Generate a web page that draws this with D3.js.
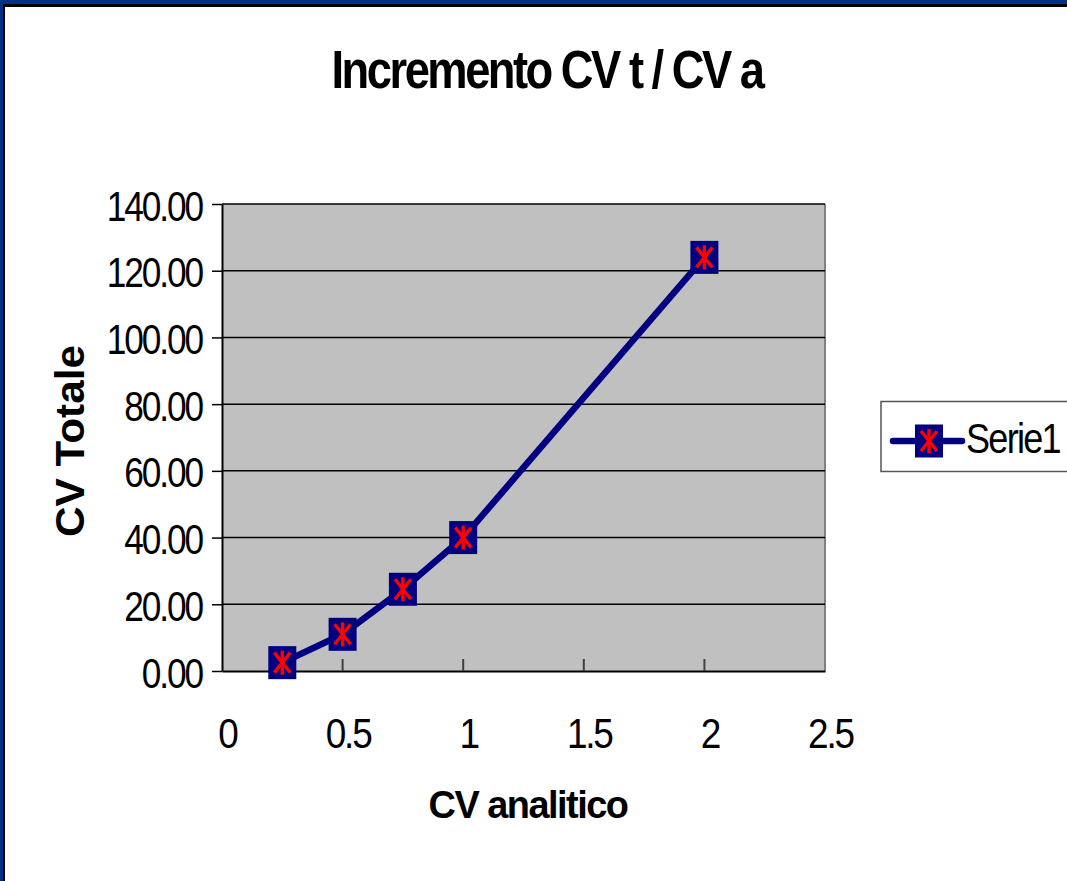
<!DOCTYPE html>
<html><head><meta charset="utf-8">
<script src="https://cdn.jsdelivr.net/npm/d3@7"></script>
<style>html,body{margin:0;padding:0;background:#fff;overflow:hidden}</style>
</head><body>
<svg id="c" width="1067" height="881"></svg>
<script>
const cvAnalitico = [0.25, 0.5, 0.75, 1, 2];
const cvTotale = [2.5, 11.0, 24.5, 40.0, 124.0];
const xTicks = [0, 0.5, 1, 1.5, 2, 2.5];
const yTicks = [0, 20, 40, 60, 80, 100, 120, 140];
const seriesName = "Serie1";
const titleText = "Incremento CV t / CV a";
const xTitle = "CV analitico";
const yTitle = "CV Totale";

const svg = d3.select("#c");
const FONT = "Liberation Sans, Arial, sans-serif";
const navy = "#000080";

svg.append("rect").attr("x",0).attr("y",0).attr("width",1067).attr("height",881).attr("fill","#fff");
// frame
svg.append("rect").attr("x",0).attr("y",0).attr("width",1067).attr("height",4).attr("fill","#062F88");
svg.append("rect").attr("x",0).attr("y",4).attr("width",1067).attr("height",3).attr("fill","#000");
svg.append("rect").attr("x",0).attr("y",0).attr("width",3).attr("height",881).attr("fill","#062F88");
svg.append("rect").attr("x",3).attr("y",4).attr("width",2).attr("height",877).attr("fill","#000");

const x = d3.scaleLinear().domain([0, 2.5]).range([222, 825]);
const y = d3.scaleLinear().domain([0, 140]).range([671, 204]);

function squeeze(t, tx, ty, factor, rot){
  t.attr("x",0).attr("y",0)
   .attr("transform",`translate(${tx},${ty})${rot?` rotate(${rot})`:""} scale(${factor},1)`);
}

// plot area
svg.append("rect").attr("x",x(0)).attr("y",y(140)).attr("width",x(2.5)-x(0)).attr("height",y(0)-y(140)).attr("fill","#C0C0C0");
svg.append("line").attr("x1",x(2.5)).attr("x2",x(2.5)).attr("y1",y(140)).attr("y2",y(0)).attr("stroke","#808080").attr("stroke-width",2);

// gridlines
svg.append("g").selectAll("line").data(yTicks.filter(d=>d>0)).join("line")
  .attr("x1",x(0)).attr("x2",x(2.5)).attr("y1",d=>y(d)).attr("y2",d=>y(d))
  .attr("stroke","#000").attr("stroke-width",1.5);

// y axis
const yAxis = d3.axisLeft(y).tickValues(yTicks).tickSize(10).tickSizeOuter(0).tickFormat(d3.format(".2f"));
const ya = svg.append("g").attr("transform",`translate(${x(0)},0)`).call(yAxis);
ya.select(".domain").attr("stroke","#000").attr("stroke-width",2);
ya.selectAll(".tick line").attr("stroke","#000").attr("stroke-width",1.5);
ya.selectAll(".tick text").attr("font-family",FONT).attr("font-size",42).attr("fill","#000")
  .attr("dy","0.36em").attr("text-anchor","end").attr("letter-spacing",-2.5)
  .each(function(){ squeeze(d3.select(this), -20, 1, 0.84); });

// x axis
const xAxis = d3.axisBottom(x).tickValues(xTicks).tickSize(0).tickSizeOuter(0).tickFormat(d=>String(d));
const xa = svg.append("g").attr("transform",`translate(0,${y(0)})`).call(xAxis);
xa.select(".domain").attr("stroke","#000").attr("stroke-width",2);
xa.selectAll(".tick text").attr("font-family",FONT).attr("font-size",42).attr("fill","#000")
  .attr("dy","0.36em").attr("text-anchor","middle").attr("letter-spacing",-2.5)
  .each(function(){ squeeze(d3.select(this), 5, 62, 0.88); });
// inner tick marks
svg.append("g").selectAll("line").data(xTicks.filter(d=>d>0 && d<2.5)).join("line")
  .attr("x1",d=>x(d)).attr("x2",d=>x(d)).attr("y1",y(0)).attr("y2",y(0)-12)
  .attr("stroke","#404040").attr("stroke-width",2);

// line
const pts = cvAnalitico.map((v,i)=>[v, cvTotale[i]]);
svg.append("path").datum(pts)
  .attr("d", d3.line().x(d=>x(d[0])).y(d=>y(d[1])))
  .attr("fill","none").attr("stroke",navy).attr("stroke-width",6.5).attr("stroke-linejoin","round");

function marker(g, cx, cy){
  g.append("rect").attr("x",cx-14).attr("y",cy-16.5).attr("width",28).attr("height",33).attr("fill",navy);
  const s = g.append("g").attr("stroke","#FF0000").attr("stroke-width",3.4).attr("fill","none");
  s.append("line").attr("x1",cx).attr("x2",cx).attr("y1",cy-12).attr("y2",cy+12);
  s.append("line").attr("x1",cx-8).attr("x2",cx+8).attr("y1",cy-10).attr("y2",cy+10);
  s.append("line").attr("x1",cx+8).attr("x2",cx-8).attr("y1",cy-10).attr("y2",cy+10);
}
const mg = svg.append("g");
pts.forEach(d => marker(mg, x(d[0]), y(d[1])));

// title
const tt = svg.append("text").attr("text-anchor","middle").attr("letter-spacing",-3)
  .attr("font-family",FONT).attr("font-weight","bold").attr("font-size",54).text(titleText);
squeeze(tt, 547, 88, 431 / tt.node().getComputedTextLength());
// x title
const xt = svg.append("text").attr("text-anchor","middle").attr("letter-spacing",-1.5)
  .attr("font-family",FONT).attr("font-weight","bold").attr("font-size",38).text(xTitle);
squeeze(xt, 528, 818, 199 / xt.node().getComputedTextLength());
// y title
const yt = svg.append("text").attr("text-anchor","middle")
  .attr("font-family",FONT).attr("font-weight","bold").attr("font-size",40).text(yTitle);
squeeze(yt, 84, 441, 192 / yt.node().getComputedTextLength(), -90);

// legend
svg.append("rect").attr("x",881).attr("y",401.5).attr("width",200).attr("height",70)
  .attr("fill","#fff").attr("stroke","#555").attr("stroke-width",1.5);
svg.append("line").attr("x1",893).attr("x2",962).attr("y1",441).attr("y2",441)
  .attr("stroke",navy).attr("stroke-width",6.5).attr("stroke-linecap","round");
marker(svg.append("g"), 929, 441);
const lt = svg.append("text").attr("font-family",FONT).attr("font-size",42).attr("letter-spacing",-2).text(seriesName);
squeeze(lt, 966, 453, 94 / lt.node().getComputedTextLength());
</script>
</body></html>
